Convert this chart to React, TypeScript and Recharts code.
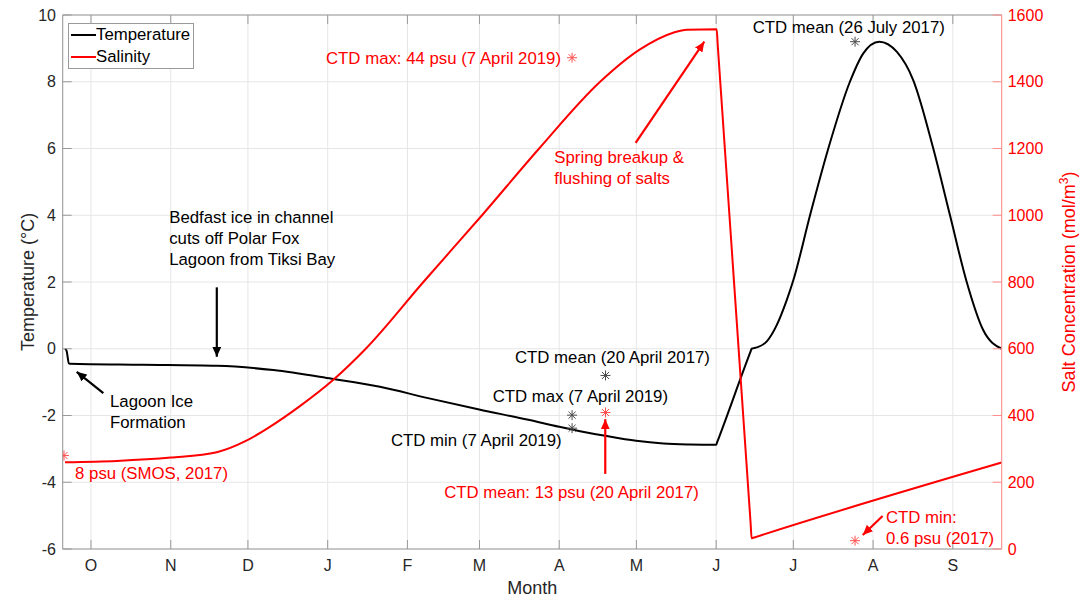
import React from 'react';
import {
  ComposedChart,
  Line,
  Scatter,
  XAxis,
  YAxis,
  CartesianGrid,
  ReferenceLine,
  ReferenceDot,
} from 'recharts';

const FONT = '"Liberation Sans", Arial, Helvetica, sans-serif';
const RED = '#ff0000';
const INK = '#262626';

// x axis: days since 1 October
const monthTicks = [0, 31, 61, 92, 123, 151, 182, 212, 243, 273, 304, 335];
const monthLabels = ['O', 'N', 'D', 'J', 'F', 'M', 'A', 'M', 'J', 'J', 'A', 'S'];
const tempTicks = [-6, -4, -2, 0, 2, 4, 6, 8, 10];
const saltTicks = [0, 200, 400, 600, 800, 1000, 1200, 1400, 1600];

// temperature (°C)
const temperature = [
  { day: -10.1, value: 0 }, { day: -9.5, value: -0.06 }, { day: -8.6, value: -0.44 },
  { day: -8.2, value: -0.45 }, { day: 20, value: -0.48 }, { day: 48.9, value: -0.51 },
  { day: 70.9, value: -0.64 }, { day: 93.6, value: -0.9 }, { day: 112.3, value: -1.14 },
  { day: 131, value: -1.48 }, { day: 150.9, value: -1.82 }, { day: 170, value: -2.13 },
  { day: 182, value: -2.34 }, { day: 190.1, value: -2.47 }, { day: 199.9, value: -2.61 },
  { day: 211.9, value: -2.76 }, { day: 222.5, value: -2.84 }, { day: 232.8, value: -2.87 },
  { day: 243, value: -2.88 }, { day: 243.4, value: -2.8 }, { day: 256.4, value: -0.08 },
  { day: 256.8, value: 0 }, { day: 258.8, value: 0.04 }, { day: 262.7, value: 0.22 },
  { day: 266.5, value: 0.7 }, { day: 270.4, value: 1.45 }, { day: 273, value: 2.05 },
  { day: 279.5, value: 4.0 }, { day: 286.6, value: 6.0 }, { day: 295, value: 8.0 },
  { day: 300.2, value: 8.85 }, { day: 306.4, value: 9.2 }, { day: 313.2, value: 8.9 },
  { day: 319.6, value: 8.05 }, { day: 327.4, value: 6.0 }, { day: 333.9, value: 4.0 },
  { day: 340.4, value: 2.0 }, { day: 346.8, value: 0.56 }, { day: 354, value: 0 },
];

// salt concentration (mol/m3)
const salinity = [
  { day: -10.1, value: 260 }, { day: 10, value: 264 }, { day: 31, value: 274 },
  { day: 48.9, value: 290 }, { day: 60, value: 323 }, { day: 68.3, value: 360 },
  { day: 81.2, value: 428 }, { day: 94.2, value: 507 }, { day: 106.8, value: 600 },
  { day: 129.2, value: 800 }, { day: 152, value: 1000 }, { day: 174.2, value: 1200 },
  { day: 197.9, value: 1400 }, { day: 213.4, value: 1497 }, { day: 226.3, value: 1547 },
  { day: 231.6, value: 1556 }, { day: 243.2, value: 1557 }, { day: 243.6, value: 1512 },
  { day: 256.4, value: 77 }, { day: 256.8, value: 32 }, { day: 257.2, value: 33 },
  { day: 354, value: 259 },
];

const tempCtd = [
  { day: 187, value: -1.99 },
  { day: 187, value: -2.38 },
  { day: 200, value: -0.8 },
  { day: 297, value: 9.2 },
];
const saltCtd = [
  { day: -10.5, value: 280 },
  { day: 187, value: 1472 },
  { day: 200, value: 409 },
  { day: 297, value: 25 },
];

const legendItems = [
  { name: 'Temperature', color: '#000' },
  { name: 'Salinity', color: RED },
];

// annotations, anchored at the first text baseline (left axis units)
const notes = [
  { day: 30.4, temp: 3.78, color: '#000', lines: ['Bedfast ice in channel', 'cuts off Polar Fox', 'Lagoon from Tiksi Bay'] },
  { day: 7.4, temp: -1.74, color: '#000', lines: ['Lagoon Ice', 'Formation'] },
  { day: -6.2, temp: -3.9, color: RED, lines: ['8 psu (SMOS, 2017)'] },
  { day: 91.35, temp: 8.52, color: RED, lines: ['CTD max: 44 psu (7 April 2019)'] },
  { day: 180.1, temp: 5.58, color: RED, lines: ['Spring breakup &', 'flushing of salts'] },
  { day: 257.2, temp: 9.45, color: '#000', lines: ['CTD mean (26 July 2017)'] },
  { day: 164.8, temp: -0.44, color: '#000', lines: ['CTD mean (20 April 2017)'] },
  { day: 156.15, temp: -1.59, color: '#000', lines: ['CTD max (7 April 2019)'] },
  { day: 116.6, temp: -2.9, color: '#000', lines: ['CTD min (7 April 2019)'] },
  { day: 137.3, temp: -4.46, color: RED, lines: ['CTD mean: 13 psu (20 April 2017)'] },
  { day: 309.0, temp: -5.21, color: RED, lines: ['CTD min:', '0.6 psu (2017)'] },
];

const arrows = [
  { x1: 48.9, y1: 1.84, x2: 48.9, y2: -0.24, color: '#000' },
  { x1: 4.8, y1: -1.33, x2: -5.56, y2: -0.69, color: '#000' },
  { x1: 211.7, y1: 6.17, x2: 238.4, y2: 9.2, color: RED },
  { x1: 199.9, y1: -3.75, x2: 199.9, y2: -2.11, color: RED },
  { x1: 307.7, y1: -5.01, x2: 300, y2: -5.58, color: RED },
];

const asterisk = (color: string) => (props: any) => {
  const { cx, cy } = props;
  const r = 5;
  const d = r * 0.707;
  return (
    <g stroke={color} strokeWidth={1}>
      <line x1={cx - r} y1={cy} x2={cx + r} y2={cy} />
      <line x1={cx} y1={cy - r} x2={cx} y2={cy + r} />
      <line x1={cx - d} y1={cy - d} x2={cx + d} y2={cy + d} />
      <line x1={cx - d} y1={cy + d} x2={cx + d} y2={cy - d} />
    </g>
  );
};

const noteLabel = (lines: string[], color: string) => (p: any) => {
  const { x, y } = p.viewBox;
  return (
    <text x={x} y={y} fill={color} fontSize={16.8} fontFamily={FONT}>
      {lines.map((t, i) => (
        <tspan key={i} x={x} dy={i === 0 ? 0 : 21.3}>{t}</tspan>
      ))}
    </text>
  );
};

const tempTitle = (p: any) => {
  const { x, y, height } = p.viewBox;
  const cy = y + height / 2;
  return (
    <text transform={`translate(${x + 34},${cy}) rotate(-90)`} textAnchor="middle" fill={INK} fontSize={18} fontFamily={FONT}>
      Temperature (°C)
    </text>
  );
};

const saltTitle = (p: any) => {
  const { x, y, height } = p.viewBox;
  const cy = y + height / 2;
  return (
    <text transform={`translate(${x + 73},${cy}) rotate(-90)`} textAnchor="middle" fill={RED} fontSize={18} fontFamily={FONT}>
      <tspan>Salt Concentration (mol/m</tspan>
      <tspan dy={-7} fontSize={12}>3</tspan>
      <tspan dy={7}>)</tspan>
    </text>
  );
};

const monthTitle = (p: any) => {
  const { x, y, width } = p.viewBox;
  return (
    <text x={x + width / 2} y={y + 44.5} textAnchor="middle" fill={INK} fontSize={18} fontFamily={FONT}>
      Month
    </text>
  );
};

function LegendBox() {
  return (
    <div
      style={{
        position: 'absolute',
        left: 68,
        top: 23,
        border: '1px solid #9a9a9a',
        background: '#fff',
        padding: '0 3px 0 2px',
        fontFamily: FONT,
        fontSize: 16.8,
        lineHeight: '22px',
        color: '#000',
      }}
    >
      {legendItems.map((it) => (
        <div key={it.name} style={{ display: 'flex', alignItems: 'center' }}>
          <span style={{ display: 'inline-block', width: 25, borderTop: `2px solid ${it.color}` }} />
          <span>{it.name}</span>
        </div>
      ))}
    </div>
  );
}

export default function App() {
  return (
    <div style={{ position: 'absolute', left: 0, top: 0, width: 1086, height: 598, background: '#fff' }}>
      <ComposedChart width={1086} height={598} margin={{ top: 14, right: 0, bottom: 0, left: 0 }}>
        <defs>
          {['#000', RED].map((c, i) => (
            <marker
              key={c}
              id={`head${i}`}
              viewBox="0 0 10 9"
              refX={10}
              refY={4.5}
              markerWidth={10}
              markerHeight={9}
              markerUnits="userSpaceOnUse"
              orient="auto"
            >
              <path d="M0,0 L10,4.5 L0,9 z" fill={c} />
            </marker>
          ))}
        </defs>
        <CartesianGrid stroke="#e6e6e6" strokeWidth={1} />
        <XAxis
          type="number"
          dataKey="day"
          domain={[-11, 354]}
          allowDataOverflow
          ticks={monthTicks}
          interval={0}
          tickFormatter={(v: number) => monthLabels[monthTicks.indexOf(v)]}
          height={49}
          tickSize={-9}
          tickMargin={19.3}
          tick={{ fill: INK, fontSize: 16, fontFamily: FONT }}
          axisLine={{ stroke: '#999' }}
          tickLine={{ stroke: '#999' }}
          label={monthTitle}
        />
        <XAxis
          xAxisId="top"
          orientation="top"
          type="number"
          dataKey="day"
          domain={[-11, 354]}
          allowDataOverflow
          ticks={monthTicks}
          interval={0}
          tickFormatter={() => ''}
          height={1}
          tickSize={-9}
          axisLine={{ stroke: '#999' }}
          tickLine={{ stroke: '#999' }}
        />
        <YAxis
          type="number"
          domain={[-6, 10]}
          allowDataOverflow
          ticks={tempTicks}
          interval={0}
          width={62.7}
          tickSize={-9}
          tickMargin={15.7}
          tick={{ fill: INK, fontSize: 16, fontFamily: FONT }}
          axisLine={{ stroke: '#999' }}
          tickLine={{ stroke: '#999' }}
          label={tempTitle}
        />
        <YAxis
          yAxisId="right"
          orientation="right"
          type="number"
          domain={[0, 1600]}
          allowDataOverflow
          ticks={saltTicks}
          interval={0}
          width={84.3}
          tickSize={-9}
          tickMargin={15}
          tick={{ fill: RED, fontSize: 16, fontFamily: FONT }}
          axisLine={{ stroke: '#ff8c8c' }}
          tickLine={{ stroke: '#ff8c8c' }}
          label={saltTitle}
        />
        <Line
          data={temperature}
          dataKey="value"
          name="Temperature"
          type="monotone"
          stroke="#000"
          strokeWidth={2}
          dot={false}
          activeDot={false}
          isAnimationActive={false}
        />
        <Line
          data={salinity}
          dataKey="value"
          name="Salinity"
          yAxisId="right"
          type="monotone"
          stroke={RED}
          strokeWidth={2}
          dot={false}
          activeDot={false}
          isAnimationActive={false}
        />
        <Scatter data={tempCtd} dataKey="value" shape={asterisk('#4a4a4a')} isAnimationActive={false} />
        <Scatter data={saltCtd} dataKey="value" yAxisId="right" shape={asterisk('#ff5050')} isAnimationActive={false} />
        {arrows.map((a, i) => (
          <ReferenceLine
            key={`a${i}`}
            segment={[{ x: a.x1, y: a.y1 }, { x: a.x2, y: a.y2 }]}
            stroke={a.color}
            strokeWidth={2.2}
            markerEnd={`url(#head${a.color === RED ? 1 : 0})`}
            ifOverflow="visible"
          />
        ))}
        {notes.map((n, i) => (
          <ReferenceDot
            key={`n${i}`}
            x={n.day}
            y={n.temp}
            r={0}
            fill="none"
            stroke="none"
            ifOverflow="visible"
            label={noteLabel(n.lines, n.color)}
          />
        ))}
      </ComposedChart>
      <LegendBox />
    </div>
  );
}
